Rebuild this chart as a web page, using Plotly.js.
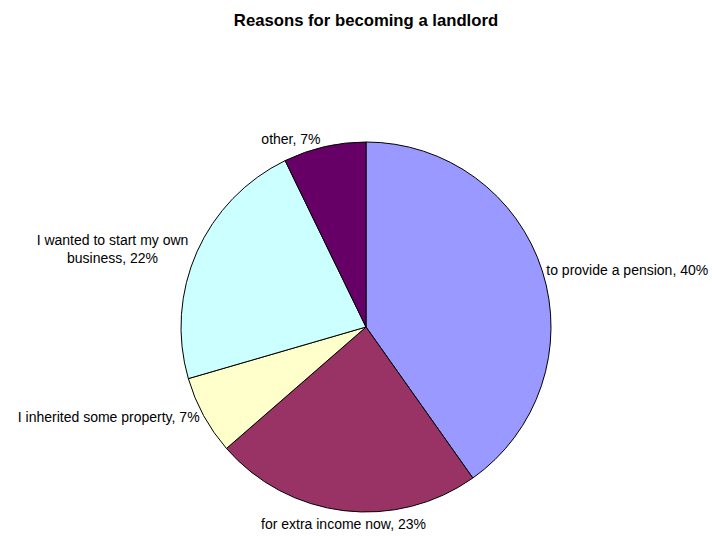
<!DOCTYPE html>
<html>
<head>
<meta charset="utf-8">
<script src="https://cdn.plot.ly/plotly-3.0.1.min.js"></script>
<style>html,body{margin:0;padding:0;background:#fff;}#chart{width:712px;height:536px;}</style>
</head>
<body>
<div id="chart"></div>
<script>
var categories = ["to provide a pension", "for extra income now", "I inherited some property", "I wanted to start my own<br>business", "other"];
var shares = [40.2, 23.4, 6.9, 22.3, 7.2];
var colors = ["#9999FF", "#993366", "#FFFFCC", "#CCFFFF", "#660066"];

var W = 712, H = 536, cx = 366, cy = 327, r = 185;
var FONT = "Liberation Sans, Arial, sans-serif";

// the bottom label is placed centred under its slice (as in the original), others use Plotly's outside text
var textpos = ["outside", "none", "outside", "outside", "outside"];
var total = shares.reduce(function (a, b) { return a + b; }, 0);
var annotations = [];
var cum = 0;
shares.forEach(function (v, i) {
  var mid = (cum + v / 2) / total * 2 * Math.PI;
  cum += v;
  if (textpos[i] !== "none") return;
  var px = cx + (r + 3) * Math.sin(mid), py = cy - (r + 3) * Math.cos(mid);
  annotations.push({
    xref: "paper", yref: "paper", x: px / W, y: 1 - py / H,
    xanchor: "center", yanchor: "top", showarrow: false,
    text: categories[i] + ", " + Math.round(v / total * 100) + "%",
    font: {family: FONT, size: 14, color: "#000000"}
  });
});

var trace = {
  type: "pie",
  labels: categories,
  values: shares,
  sort: false,
  direction: "clockwise",
  rotation: 0,
  marker: {colors: colors, line: {color: "#000000", width: 1}},
  texttemplate: "%{label}, %{percent:.0%}",
  textposition: textpos,
  outsidetextfont: {family: FONT, size: 14, color: "#000000"},
  automargin: false,
  hoverinfo: "none",
  domain: {x: [(cx - r) / W, (cx + r) / W], y: [(H - cy - r) / H, (H - cy + r) / H]}
};
var layout = {
  width: W, height: H,
  margin: {l: 0, r: 0, t: 0, b: 0},
  paper_bgcolor: "#ffffff",
  showlegend: false,
  annotations: annotations,
  title: {text: "<b>Reasons for becoming a landlord</b>", x: cx / W, xanchor: "center", y: 1 - 20 / H, yanchor: "middle",
          font: {family: FONT, size: 16.7, color: "#000000"}},
  font: {family: FONT, size: 14, color: "#000000"}
};
Plotly.newPlot("chart", [trace], layout, {displayModeBar: false, staticPlot: true});
</script>
</body>
</html>
